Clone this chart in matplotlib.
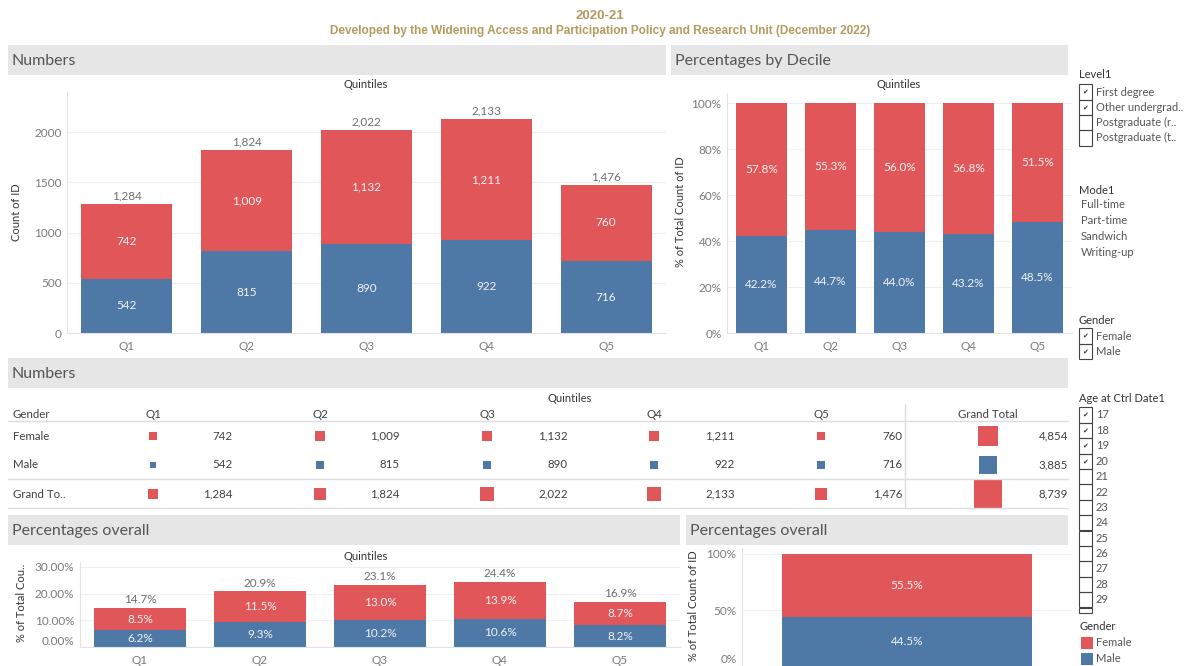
import matplotlib
matplotlib.use('Agg')
import matplotlib.pyplot as plt
from matplotlib.patches import Rectangle
import matplotlib.transforms as mtransforms
import numpy as np

# ---------------- data ----------------
quintiles = ['Q1', 'Q2', 'Q3', 'Q4', 'Q5']
female_counts = [742, 1009, 1132, 1211, 760]
male_counts = [542, 815, 890, 922, 716]
female_pct_decile = [57.8, 55.3, 56.0, 56.8, 51.5]
male_pct_decile = [42.2, 44.7, 44.0, 43.2, 48.5]
female_pct_overall = [8.5, 11.5, 13.0, 13.9, 8.7]
male_pct_overall = [6.2, 9.3, 10.2, 10.6, 8.2]
total_pct_overall = [14.7, 20.9, 23.1, 24.4, 16.9]
grand_female_pct = 55.5
grand_male_pct = 44.5
count_ticks = [0, 500, 1000, 1500, 2000]
decile_ticks = [0, 20, 40, 60, 80, 100]
overall_ticks = [0, 10, 20, 30]
grand_ticks = [0, 50, 100]

level1_items = ['First degree', 'Other undergrad..', 'Postgraduate (r..', 'Postgraduate (t..']
level1_checked = [True, True, False, False]
mode1_items = ['Full-time', 'Part-time', 'Sandwich', 'Writing-up']
gender_items = ['Female', 'Male']
gender_checked = [True, True]
ages = [str(a) for a in range(17, 30)]
ages_checked = [True, True, True, True] + [False] * 9

RED = '#E15759'
BLUE = '#4E79A7'
GOLD = '#B59A5E'
HDR = '#E6E6E6'
FONT = ['Lato', 'DejaVu Sans']

plt.rcParams['font.family'] = FONT

W, H = 1195, 666
fig = plt.figure(figsize=(W / 100, H / 100), dpi=100)

ov = fig.add_axes([0, 0, 1, 1], zorder=0)
ov.set_xlim(0, W)
ov.set_ylim(H, 0)
ov.axis('off')


def px_axes(x0, y0, x1, y1):
    return fig.add_axes([x0 / W, 1 - y1 / H, (x1 - x0) / W, (y1 - y0) / H], zorder=2)


def style(ax):
    for s in ['top', 'right']:
        ax.spines[s].set_visible(False)
    for s in ['left', 'bottom']:
        ax.spines[s].set_color('#e2e2e2')
        ax.spines[s].set_linewidth(0.8)
    ax.grid(axis='y', color='#efefef', linewidth=0.8)
    ax.set_axisbelow(True)
    ax.tick_params(axis='both', length=0, labelcolor='#7a7a7a', labelsize=8.5)
    ax.tick_params(axis='y', pad=4)
    ax.tick_params(axis='x', pad=6)


def header(x0, y0, x1, y1, text):
    ov.add_patch(Rectangle((x0, y0), x1 - x0, y1 - y0, color=HDR, lw=0))
    ov.text(x0 + 4, (y0 + y1) / 2 + 1, text, fontsize=11.5, color='#555555', va='center', ha='left')


# ---------------- titles ----------------
ov.text(600, 16, '2020-21', fontsize=9.5, fontweight='bold', color=GOLD, ha='center', va='center',
        family=['Liberation Sans', 'DejaVu Sans'])
ov.text(600, 31, 'Developed by the Widening Access and Participation Policy and Research Unit (December 2022)',
        fontsize=8.5, fontweight='bold', color=GOLD, ha='center', va='center',
        family=['Liberation Sans', 'DejaVu Sans'])

header(8, 45, 666, 75, 'Numbers')
header(671, 45, 1068, 75, 'Percentages by Decile')
header(8, 358, 1068, 388, 'Numbers')
header(8, 515, 680, 545, 'Percentages overall')
header(686, 515, 1068, 545, 'Percentages overall')

x = np.arange(len(quintiles))
LBL = '#F2F2F2'

# ---------------- chart 1: counts ----------------
ax1 = px_axes(67, 92, 666, 333)
style(ax1)
ax1.bar(x, male_counts, 0.76, color=BLUE)
ax1.bar(x, female_counts, 0.76, bottom=male_counts, color=RED)
for i in range(len(x)):
    m, f = male_counts[i], female_counts[i]
    ax1.text(i, m / 2, f'{m:,}', ha='center', va='center', color=LBL, fontsize=8.5)
    ax1.text(i, m + f / 2, f'{f:,}', ha='center', va='center', color=LBL, fontsize=8.5)
    ax1.annotate(f'{m + f:,}', (i, m + f), xytext=(0, 2), textcoords='offset points',
                 ha='center', va='bottom', color='#6e6e6e', fontsize=8.5)
ax1.set_xlim(-0.5, len(x) - 0.5)
ax1.set_ylim(0, 2400)
ax1.set_yticks(count_ticks)
ax1.set_xticks(x)
ax1.set_xticklabels(quintiles)
ov.text(366, 85, 'Quintiles', fontsize=8, color='#333333', ha='center', va='center')
ov.text(17, 212, 'Count of ID', fontsize=8, color='#333333', ha='center', va='center', rotation=90)

# ---------------- chart 2: percentages by decile ----------------
ax2 = px_axes(727, 93, 1072, 333)
style(ax2)
ax2.bar(x, male_pct_decile, 0.75, color=BLUE)
ax2.bar(x, female_pct_decile, 0.75, bottom=male_pct_decile, color=RED)
for i in range(len(x)):
    m, f = male_pct_decile[i], female_pct_decile[i]
    ax2.text(i, m / 2, f'{m:.1f}%', ha='center', va='center', color=LBL, fontsize=8.5)
    ax2.text(i, m + f / 2, f'{f:.1f}%', ha='center', va='center', color=LBL, fontsize=8.5)
ax2.set_xlim(-0.5, len(x) - 0.5)
ax2.set_ylim(0, 104.5)
ax2.set_yticks(decile_ticks)
ax2.set_yticklabels([f'{t}%' for t in decile_ticks])
ax2.set_xticks(x)
ax2.set_xticklabels(quintiles)
ov.text(899, 85, 'Quintiles', fontsize=8, color='#333333', ha='center', va='center')
ov.text(681, 212, '% of Total Count of ID', fontsize=8, color='#333333', ha='center', va='center', rotation=90)

# ---------------- table ----------------
TC = '#404040'
TS = 8.3
ov.text(570, 399, 'Quintiles', fontsize=8, color='#333333', ha='center', va='center')
ov.text(13, 414, 'Gender', fontsize=TS, color=TC, ha='left', va='center')
col_sq = [153, 320, 487, 654, 821]
col_val = [233, 400, 568, 735, 902]
for j, q in enumerate(quintiles):
    ov.text(col_sq[j] - 7, 414, q, fontsize=TS, color=TC, ha='left', va='center')
ov.text(988, 414, 'Grand Total', fontsize=TS, color=TC, ha='center', va='center')
ov.plot([8, 1068], [421, 421], color='#dddddd', lw=1)
ov.plot([8, 1068], [479, 479], color='#dddddd', lw=1)
ov.plot([8, 1068], [508, 508], color='#dddddd', lw=1)
ov.plot([905, 905], [404, 508], color='#dddddd', lw=1)

row_y = [436, 465, 494]
row_names = ['Female', 'Male', 'Grand To..']
grand_female = sum(female_counts)
grand_male = sum(male_counts)
totals = [female_counts[i] + male_counts[i] for i in range(len(quintiles))]
rows = [female_counts, male_counts, totals]
row_col = [RED, BLUE, RED]
grand_vals = [grand_female, grand_male, grand_female + grand_male]


def sq_size(v):
    side_px = 0.293 * np.sqrt(v)
    return (side_px * 0.72) ** 2


for r in range(3):
    ov.text(13, row_y[r], row_names[r], fontsize=TS, color=TC, ha='left', va='center')
    ov.scatter(col_sq, [row_y[r]] * len(col_sq), s=[sq_size(v) for v in rows[r]], marker='s',
               color=row_col[r], linewidths=0)
    for j, v in enumerate(rows[r]):
        ov.text(col_val[j], row_y[r], f'{v:,}', fontsize=TS, color=TC, ha='right', va='center')
    ov.scatter([988], [row_y[r]], s=[sq_size(grand_vals[r])], marker='s', color=row_col[r], linewidths=0)
    ov.text(1068, row_y[r], f'{grand_vals[r]:,}', fontsize=TS, color=TC, ha='right', va='center')

# ---------------- chart 3: percentages overall ----------------
ax3 = px_axes(80, 562, 680, 647)
style(ax3)
ax3.bar(x, male_pct_overall, 0.76, color=BLUE)
ax3.bar(x, female_pct_overall, 0.76, bottom=male_pct_overall, color=RED)
for i in range(len(x)):
    m, f = male_pct_overall[i], female_pct_overall[i]
    ax3.text(i, m / 2, f'{m:.1f}%', ha='center', va='center', color=LBL, fontsize=8.5)
    ax3.text(i, m + f / 2, f'{f:.1f}%', ha='center', va='center', color=LBL, fontsize=8.5)
    ax3.annotate(f'{total_pct_overall[i]:.1f}%', (i, m + f), xytext=(0, 2), textcoords='offset points',
                 ha='center', va='bottom', color='#6e6e6e', fontsize=8.5)
ax3.set_xlim(-0.5, len(x) - 0.5)
ax3.set_ylim(0, 31.8)
ax3.set_yticks(overall_ticks)
ax3.set_yticklabels([f'{t:.2f}%' for t in overall_ticks])
ax3.set_xticks(x)
ax3.set_xticklabels(quintiles)
lab0 = ax3.get_yticklabels()[0]
lab0.set_transform(lab0.get_transform() + mtransforms.ScaledTranslation(0, 5 / 72, fig.dpi_scale_trans))
ov.text(366, 556, 'Quintiles', fontsize=8, color='#333333', ha='center', va='center')
ov.text(22, 603, '% of Total Cou..', fontsize=8, color='#333333', ha='center', va='center', rotation=90)

# ---------------- chart 4: grand percentages ----------------
ax4 = px_axes(742, 548, 1072, 667)
style(ax4)
ax4.bar([0], [grand_male_pct], 0.757, color=BLUE)
ax4.bar([0], [grand_female_pct], 0.757, bottom=[grand_male_pct], color=RED)
ax4.text(0, grand_male_pct / 2, f'{grand_male_pct:.1f}%', ha='center', va='center', color=LBL, fontsize=8.5)
ax4.text(0, grand_male_pct + grand_female_pct / 2, f'{grand_female_pct:.1f}%', ha='center', va='center',
         color=LBL, fontsize=8.5)
ax4.set_xlim(-0.5, 0.5)
ax4.set_ylim(0, 105)
ax4.set_yticks(grand_ticks)
ax4.set_yticklabels([f'{t}%' for t in grand_ticks])
ax4.set_xticks([])
g0 = ax4.get_yticklabels()[0]
g0.set_transform(g0.get_transform() + mtransforms.ScaledTranslation(0, 6 / 72, fig.dpi_scale_trans))
ov.text(694, 606, '% of Total Count of ID', fontsize=8, color='#333333', ha='center', va='center', rotation=90)

# ---------------- filter panel ----------------
PX = 1079
TXT = '#555555'


def checklist(y_start, items, checked, step=15.3):
    for k, (it, c) in enumerate(zip(items, checked)):
        yc = y_start + k * step
        ov.add_patch(Rectangle((PX, yc - step / 2), 13, step, fill=False, edgecolor='#444444', lw=0.8))
        if c:
            ov.text(PX + 6.5, yc, '\u2714', fontsize=5, color='#333333', ha='center', va='center',
                    family='DejaVu Sans')
        ov.text(PX + 17, yc, it, fontsize=8, color=TXT, ha='left', va='center')


ov.text(PX, 75, 'Level1', fontsize=8, color='#333333', ha='left', va='center')
checklist(92, level1_items, level1_checked)
ov.text(PX, 190, 'Mode1', fontsize=8, color='#333333', ha='left', va='center')
for k, it in enumerate(mode1_items):
    ov.text(PX + 2, 205 + k * 15.7, it, fontsize=8, color=TXT, ha='left', va='center')
ov.text(PX, 321, 'Gender', fontsize=8, color='#333333', ha='left', va='center')
checklist(336, gender_items, gender_checked)
ov.text(PX, 398, 'Age at Ctrl Date1', fontsize=8, color='#333333', ha='left', va='center')
checklist(415, ages, ages_checked, step=15.4)
ov.add_patch(Rectangle((PX, 608), 13, 5, fill=False, edgecolor='#444444', lw=0.8))
ov.text(PX + 1, 627, 'Gender', fontsize=8, color='#333333', ha='left', va='center')
for k, (it, col) in enumerate(zip(gender_items, [RED, BLUE])):
    yc = 643 + k * 16
    ov.add_patch(Rectangle((PX + 2, yc - 6), 12, 12, color=col, lw=0))
    ov.text(PX + 17, yc, it, fontsize=8, color=TXT, ha='left', va='center')

fig.savefig('out.png', dpi=100)
